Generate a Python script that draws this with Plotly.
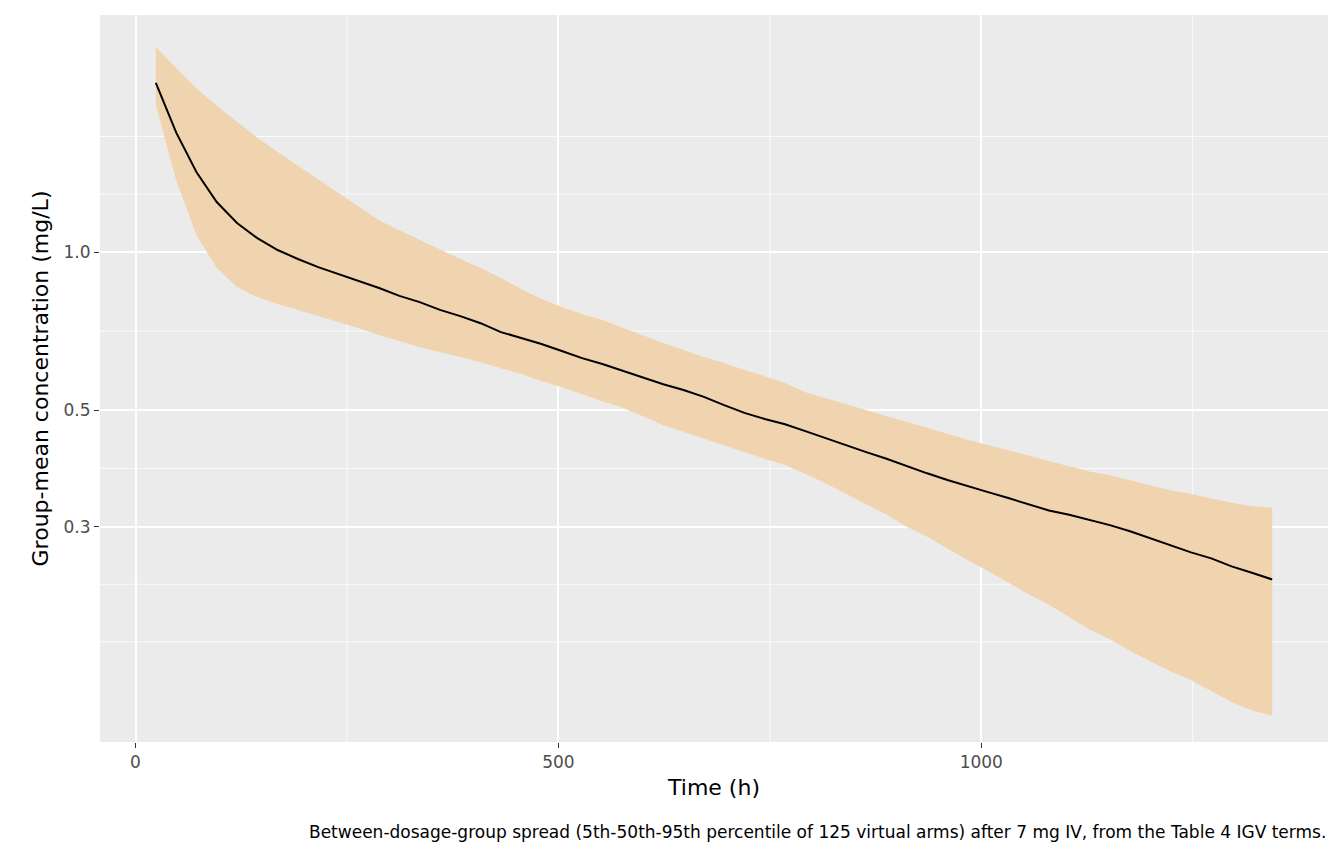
import plotly.graph_objects as go

time_h = [24*i for i in range(1, 57)]
median = [2.10,1.69,1.42,1.245,1.136,1.063,1.009,0.97,0.936,0.908,0.88,0.854,0.825,0.803,0.776,0.755,0.732,0.704,0.686,0.668,0.648,0.628,0.612,0.594,0.578,0.56,0.546,0.53,0.511,0.494,0.481,0.47,0.456,0.442,0.429,0.416,0.404,0.391,0.379,0.368,0.358,0.349,0.340,0.331,0.322,0.316,0.309,0.302,0.294,0.285,0.277,0.268,0.261,0.252,0.245,0.238]
upper = [2.46,2.24,2.05,1.90,1.77,1.65,1.55,1.46,1.38,1.30,1.22,1.15,1.10,1.054,1.009,0.97,0.932,0.892,0.85,0.814,0.786,0.762,0.742,0.717,0.692,0.671,0.651,0.631,0.615,0.596,0.580,0.563,0.541,0.527,0.513,0.50,0.487,0.474,0.462,0.45,0.439,0.429,0.42,0.41,0.40,0.391,0.382,0.376,0.368,0.36,0.352,0.346,0.339,0.333,0.328,0.326]
lower = [1.905,1.37,1.077,0.932,0.858,0.821,0.796,0.776,0.755,0.736,0.717,0.695,0.677,0.659,0.645,0.631,0.617,0.601,0.586,0.568,0.553,0.536,0.520,0.505,0.487,0.468,0.454,0.442,0.429,0.416,0.404,0.393,0.378,0.363,0.347,0.331,0.316,0.30,0.287,0.273,0.259,0.247,0.235,0.223,0.213,0.202,0.191,0.183,0.174,0.166,0.159,0.153,0.146,0.139,0.134,0.131]
y_ticks = [0.3, 0.5, 1.0]
y_tick_labels = ["0.3", "0.5", "1.0"]
x_ticks = [0, 500, 1000]
y_minor = [0.181, 0.233, 0.387, 0.707, 1.29, 1.66]
x_minor = [250, 750, 1250]
caption = "Between-dosage-group spread (5th-50th-95th percentile of 125 virtual arms) after 7 mg IV, from the Table 4 IGV terms."

fig = go.Figure()
fig.add_trace(go.Scatter(x=time_h + time_h[::-1], y=upper + lower[::-1], fill="toself",
                         fillcolor="#F0D4B0", line=dict(width=0), mode="lines", hoverinfo="skip"))
fig.add_trace(go.Scatter(x=time_h, y=median, mode="lines", line=dict(color="black", width=2)))

shapes = []
for v in y_minor:
    shapes.append(dict(type="line", xref="paper", x0=0, x1=1, yref="y", y0=v, y1=v,
                       line=dict(color="white", width=0.8), layer="below"))
for v in x_minor:
    shapes.append(dict(type="line", yref="paper", y0=0, y1=1, xref="x", x0=v, x1=v,
                       line=dict(color="white", width=0.8), layer="below"))

fig.update_layout(
    width=1344, height=864, showlegend=False,
    paper_bgcolor="white", plot_bgcolor="#EBEBEB",
    margin=dict(l=92, r=24, t=7, b=130),
    font=dict(family="DejaVu Sans", color="black"),
    shapes=shapes,
    xaxis=dict(range=[-42, 1410], tickvals=x_ticks, ticks="outside", ticklen=5, tickcolor="#333333",
               tickfont=dict(size=17, color="#4D4D4D"), gridcolor="white", gridwidth=1.8,
               zeroline=False, showline=False,
               title=dict(text="Time (h)", font=dict(size=22), standoff=8)),
    yaxis=dict(type="log", tickvals=y_ticks, ticktext=y_tick_labels,
               ticks="outside", ticklen=5, tickcolor="#333333",
               tickfont=dict(size=17, color="#4D4D4D"), gridcolor="white", gridwidth=1.8,
               zeroline=False, showline=False,
               title=dict(text="Group-mean concentration (mg/L)", font=dict(size=22), standoff=8)),
    annotations=[dict(text=caption, xref="paper", yref="paper", x=1, y=0, xanchor="right",
                      yanchor="top", yshift=-78, showarrow=False, font=dict(size=17, color="black"))],
)
fig.update_yaxes(autorange=False, range=[-0.933, 0.4514])
fig.write_html("out.html")
